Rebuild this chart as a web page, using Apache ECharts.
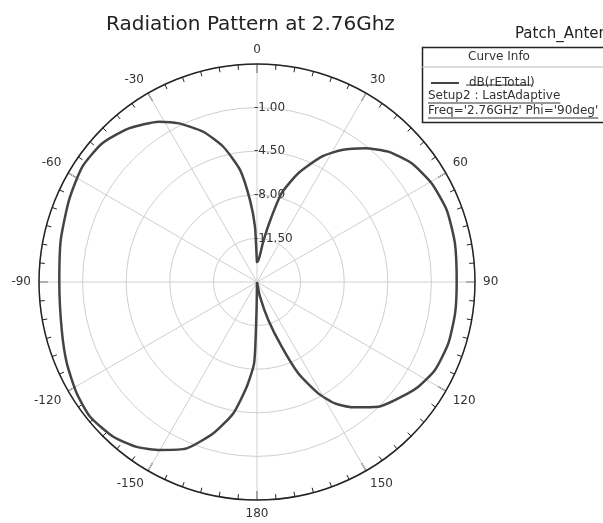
<!DOCTYPE html>
<html>
<head>
<meta charset="utf-8">
<script src="https://cdn.jsdelivr.net/npm/echarts@6/dist/echarts.min.js"></script>
<style>
  html, body { margin: 0; padding: 0; background: #fff; }
  #chart { width: 603px; height: 523px; }
</style>
</head>
<body>
<div id="chart"></div>
<script>
// theta in degrees (-180..180), dB(rETotal)
const thetaDeg = [
  -180, -179, -178, -174.4, -169.8, -163.9, -157.1, -150, -143.9, -137.1,
  -128.9, -121.7, -113.1, -103.8, -90, -77.9, -66.4, -56.6, -48.1, -39.8,
  -31.4, -26.2, -19.7, -14, -8.6, -4.9, -2.1, -0.5, 0,
  3, 6, 9, 12.5, 15.5, 20.8, 27.3, 32.7, 38.9, 45.2,
  52.5, 60.5, 69.2, 78.9, 90, 99, 107.8, 116.3, 123, 128.4,
  135.8, 142.9, 147.3, 151.2, 155.7, 159.1, 163.4, 168.5, 180
]
const dBrETotal = [
  -15, -12.5, -8.5, -6.55, -4.3, -2.36, -0.5, 0.57, 1.38, 1.95,
  2.22, 2.01, 1.6, 1.14, 0.87, 1.11, 1.46, 1.8, 1.68, 1.06,
  0.08, -0.81, -2.19, -3.81, -5.9, -8.4, -10.56, -13.2, -13.4,
  -13.3, -12.9, -11.6, -9.7, -7.6, -5.66, -3.68, -2.41, -1.2, -0.15,
  0.65, 1.1, 1.29, 1.19, 1.03, 1.1, 1.13, 0.94, 0.44, -0.18,
  -1.03, -2.39, -3.42, -4.8, -6.96, -9.44, -11.8, -13.8, -15
]
const radialTicks = [-15, -11.5, -8, -4.5, -1, 2.5]
const shownRadialLabels = [-11.5, -8, -4.5, -1]
const legendLines = ['Setup2 : LastAdaptive', "Freq='2.76GHz' Phi='90deg'"]

const chart = echarts.init(document.getElementById('chart'))
const font = 'DejaVu Sans, Verdana, sans-serif'

// text widths, for the underlines in the curve info box
const ctx = document.createElement('canvas').getContext('2d')
ctx.font = '12px ' + font
const textW = s => ctx.measureText(s).width

const seriesData = thetaDeg.map((a, i) => [dBrETotal[i], a < 0 ? a + 360 : a])

const boxX = 420, boxY = 45
const underline = (x, y, s) => ({
  type: 'line', shape: { x1: x, y1: y, x2: x + textW(s), y2: y },
  style: { stroke: '#333', lineWidth: 1 }
})

const option = {
  backgroundColor: '#fff',
  animation: false,
  textStyle: { fontFamily: font },
  title: [
    {
      text: 'Radiation Pattern at 2.76Ghz',
      left: 101, top: 10,
      textStyle: { fontSize: 20, fontWeight: 'normal', color: '#222', fontFamily: font }
    },
    {
      text: 'Patch_Antenna',
      left: 510, top: 22,
      textStyle: { fontSize: 15, fontWeight: 'normal', color: '#222', fontFamily: font }
    }
  ],
  legend: {
    left: 426, top: 72,
    itemWidth: 28, itemHeight: 2, itemGap: 10,
    icon: 'rect',
    textStyle: { fontSize: 12, color: '#333', fontFamily: font, padding: [0, 0, 0, 5] },
    data: ['dB(rETotal)']
  },
  polar: { center: [257, 282], radius: 218 },
  angleAxis: {
    type: 'value',
    min: 0, max: 360, interval: 30,
    startAngle: 90, clockwise: true,
    axisLine: { lineStyle: { color: '#222', width: 1.5 } },
    axisTick: { show: true, inside: true, length: 9, lineStyle: { color: '#222', width: 1.2 } },
    minorTick: { show: true, splitNumber: 6, length: 5, lineStyle: { color: '#222', width: 1 } },
    axisLabel: {
      margin: 8, fontSize: 12, color: '#333', fontFamily: font,
      formatter: v => (v === 360 ? '' : String(v > 180 ? v - 360 : v))
    },
    splitLine: { show: true, lineStyle: { color: '#cfcfcf', width: 1 } }
  },
  radiusAxis: {
    type: 'value',
    min: radialTicks[0], max: radialTicks[radialTicks.length - 1], interval: 3.5,
    axisLine: { show: false },
    axisTick: { show: false },
    axisLabel: {
      margin: 3, align: 'left', verticalAlign: 'middle',
      padding: [0, 0, 6, 0],
      fontSize: 12, color: '#333', fontFamily: font,
      formatter: v => (shownRadialLabels.some(s => Math.abs(s - v) < 1e-6) ? v.toFixed(2) : '')
    },
    splitLine: { show: true, lineStyle: { color: '#cfcfcf', width: 1 } }
  },
  series: [
    {
      name: 'dB(rETotal)',
      type: 'line',
      coordinateSystem: 'polar',
      data: seriesData,
      showSymbol: false,
      smooth: 0.2,
      lineStyle: { color: '#444', width: 2.5 },
      itemStyle: { color: '#444' }
    }
  ],
  graphic: [
    {
      type: 'rect', left: boxX, top: boxY,
      shape: { width: 200, height: 75 },
      style: { fill: 'none', stroke: '#222', lineWidth: 1.5 }
    },
    {
      type: 'line', shape: { x1: boxX + 1, y1: 67, x2: 603, y2: 67 },
      style: { stroke: '#bbb', lineWidth: 1 }
    },
    {
      type: 'text', x: 499, y: 57,
      style: { text: 'Curve Info', fontSize: 12, fill: '#333', fontFamily: font, align: 'center', verticalAlign: 'middle' }
    },
    {
      type: 'text', x: 428, y: 96,
      style: { text: legendLines[0], fontSize: 12, fill: '#333', fontFamily: font, verticalAlign: 'middle' }
    },
    {
      type: 'text', x: 428, y: 111,
      style: { text: legendLines[1], fontSize: 12, fill: '#333', fontFamily: font, verticalAlign: 'middle' }
    },
    underline(466, 85, 'dB(rETotal)'),
    underline(428, 103, legendLines[0]),
    underline(428, 118, legendLines[1])
  ]
}
chart.setOption(option)
</script>
</body>
</html>
